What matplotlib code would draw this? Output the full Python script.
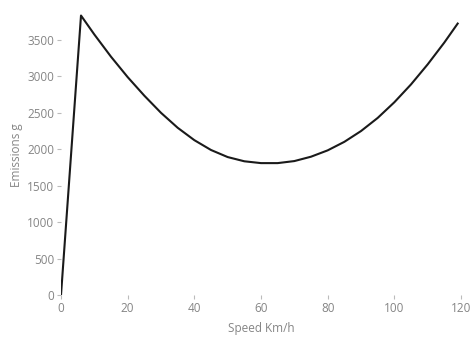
import matplotlib
matplotlib.use("Agg")
import matplotlib.pyplot as plt

# values
speed = [0, 6, 10, 15, 20, 25, 30, 35, 40, 45, 50, 55, 60, 65,
         70, 75, 80, 85, 90, 95, 100, 105, 110, 115, 119]
emissions = [0, 3835, 3575, 3270, 2990, 2735, 2500, 2295, 2125, 1990, 1893, 1835, 1810, 1810,
             1838, 1898, 1985, 2102, 2250, 2430, 2645, 2890, 3165, 3465, 3725]

xticks = [0, 20, 40, 60, 80, 100, 120]
yticks = [0, 500, 1000, 1500, 2000, 2500, 3000, 3500]

TICK = "#858585"

plt.rcParams.update({
    "font.family": ["Open Sans", "DejaVu Sans"],
    "font.size": 8.5,
})

fig = plt.figure(figsize=(4.74, 3.44), dpi=100)
ax = fig.add_axes([0.1287, 0.1424, 0.8439, 0.8156])
ax.plot(speed, emissions, color="#1a1a1a", lw=1.5, solid_joinstyle="round")

ax.set_xlim(0, 120)
ax.set_ylim(0, 3850)
ax.set_xticks(xticks)
ax.set_yticks(yticks)
for s in ax.spines.values():
    s.set_visible(False)
ax.tick_params(direction="out", length=3, width=0.8, color="#bbbbbb",
               labelcolor=TICK, labelsize=8.5, pad=2)
ax.set_xlabel("Speed Km/h", color=TICK, fontsize=8.5, labelpad=5)
ax.set_ylabel("Emissions g", color=TICK, fontsize=8.5, labelpad=3)

fig.savefig("out.png", dpi=100)
